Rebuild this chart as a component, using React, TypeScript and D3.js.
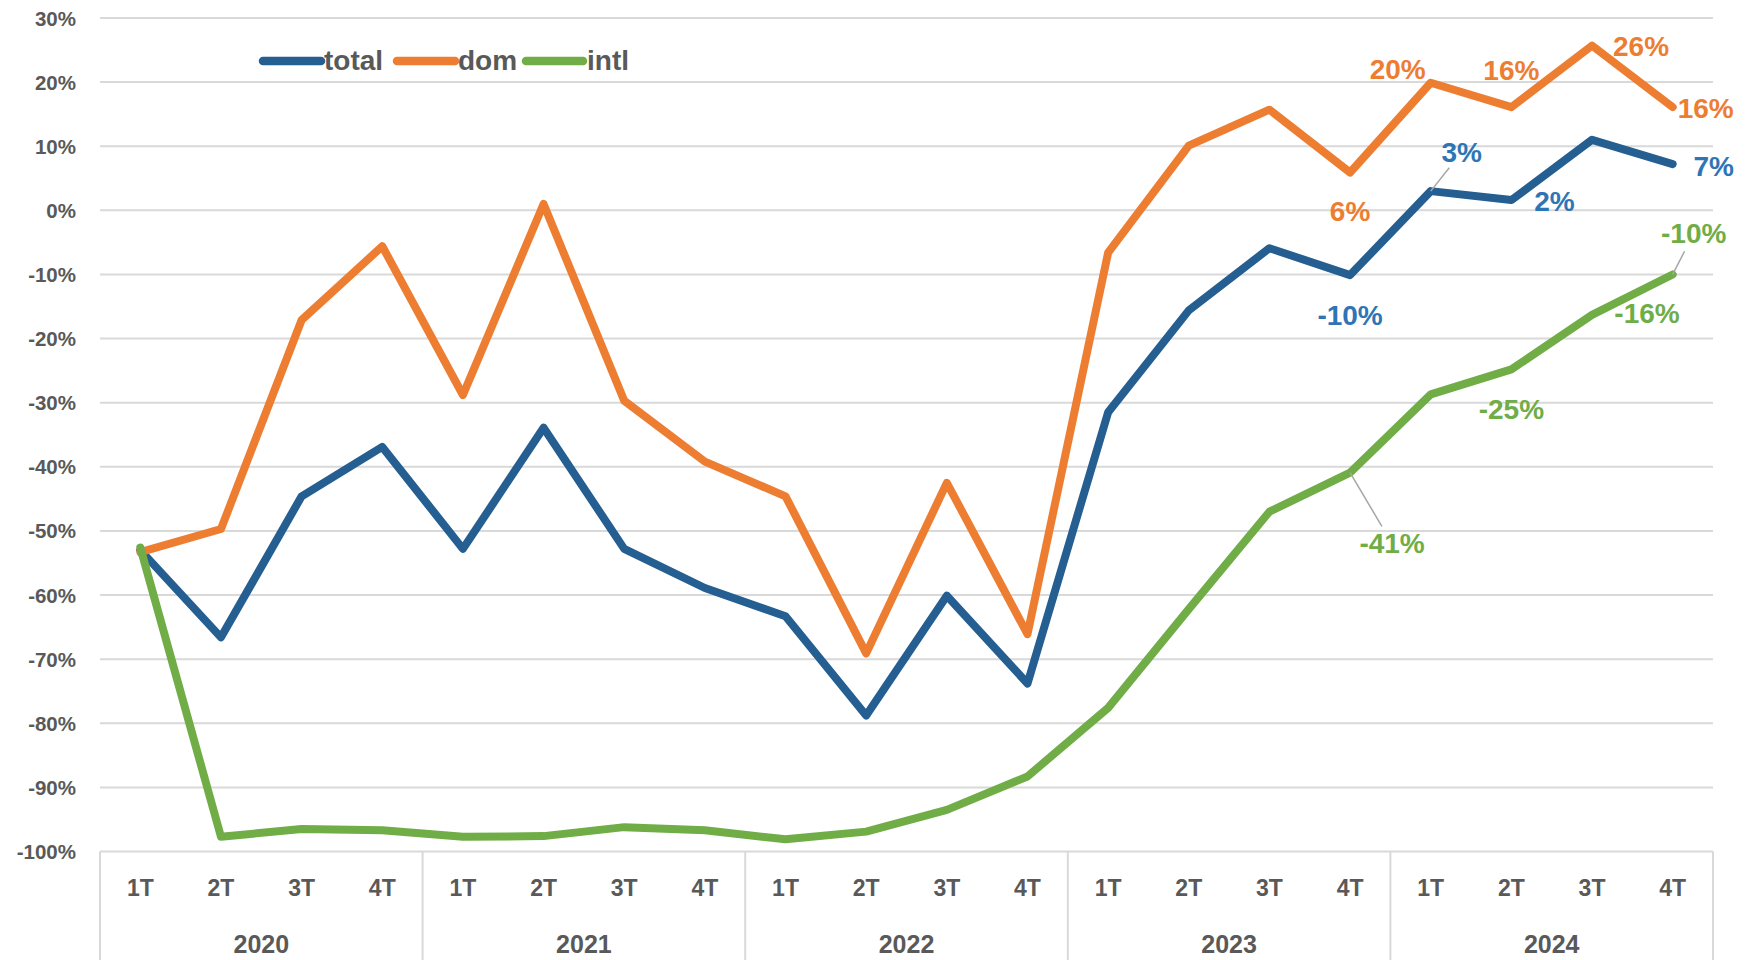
import React from "react";
import * as d3 from "d3";

const years = ["2020", "2021", "2022", "2023", "2024"];
const quarters = ["1T", "2T", "3T", "4T"];
const yTicks = [30, 20, 10, 0, -10, -20, -30, -40, -50, -60, -70, -80, -90, -100];

const totalValues = [-53.0, -66.6, -44.6, -36.9, -52.8, -33.9, -52.8, -58.9, -63.3, -78.8, -60.1, -73.8, -31.5, -15.6, -5.9, -10.1, 3.0, 1.6, 11.0, 7.2];
const domValues = [-53.3, -49.7, -17.1, -5.6, -28.8, 1.0, -29.7, -39.2, -44.6, -69.1, -42.5, -66.1, -6.6, 10.1, 15.7, 5.9, 19.9, 16.1, 25.7, 16.1];
const intlValues = [-52.6, -97.7, -96.5, -96.7, -97.7, -97.6, -96.2, -96.7, -98.1, -96.9, -93.5, -88.3, -77.6, -62.2, -47.0, -40.9, -28.7, -24.8, -16.3, -10.0];

const lineColors: Record<string, string> = { total: "#255E91", dom: "#ED7D31", intl: "#70AD47" };
const labelColors: Record<string, string> = { total: "#2E75B6", dom: "#ED7D31", intl: "#70AD47" };

// data labels: series, point index, label offset (dx, dy), optional leader line
const dataLabels = [
  { s: "dom", i: 15, dx: 0, dy: 39, leader: false },
  { s: "dom", i: 16, dx: -33, dy: -13, leader: false },
  { s: "dom", i: 17, dx: 0, dy: -37, leader: false },
  { s: "dom", i: 18, dx: 49, dy: 1, leader: false },
  { s: "dom", i: 19, dx: 33, dy: 1, leader: false },
  { s: "total", i: 15, dx: 0, dy: 40, leader: false },
  { s: "total", i: 16, dx: 31, dy: -39, leader: true },
  { s: "total", i: 17, dx: 43, dy: 1, leader: false },
  { s: "total", i: 19, dx: 41, dy: 2, leader: false },
  { s: "intl", i: 15, dx: 42, dy: 71, leader: true },
  { s: "intl", i: 17, dx: 0, dy: 40, leader: false },
  { s: "intl", i: 18, dx: 55, dy: -1, leader: false },
  { s: "intl", i: 19, dx: 21, dy: -41, leader: true },
];

const W = 1759;
const H = 960;
const left = 100;
const right = 1713;
const top = 18;
const bottom = 851.5;
const FONT = "'Liberation Sans', Arial, sans-serif";
const TXT = "#595959";
const GRID = "#D9D9D9";

export default function App() {
  const categories = years.flatMap((y) => quarters.map((q) => `${y}-${q}`));
  const x = d3.scaleBand<string>().domain(categories).range([left, right]);
  const xc = (i: number) => (x(categories[i]) as number) + x.bandwidth() / 2;
  const y = d3.scaleLinear().domain([-100, 30]).range([bottom, top]);

  const dataMap: Record<string, number[]> = { total: totalValues, dom: domValues, intl: intlValues };
  const line = d3
    .line<number>()
    .x((_, i) => xc(i))
    .y((d) => y(d));

  const yearW = x.bandwidth() * 4;

  const legendItems = [
    { s: "total", x1: 263, x2: 321, tx: 324 },
    { s: "dom", x1: 397, x2: 455, tx: 458 },
    { s: "intl", x1: 526, x2: 583, tx: 587 },
  ];

  return (
    <svg width={W} height={H} style={{ position: "absolute", left: 0, top: 0, background: "#fff" }} fontFamily={FONT}>
      <rect width={W} height={H} fill="#fff" />
      {yTicks.map((t) => (
        <g key={t}>
          <line x1={left} x2={right} y1={y(t)} y2={y(t)} stroke={GRID} strokeWidth={2} />
          <text x={76} y={y(t)} textAnchor="end" dominantBaseline="central" fontSize={20.5} fontWeight="bold" fill={TXT}>
            {`${t}%`}
          </text>
        </g>
      ))}
      {/* category axis box */}
      {d3.range(years.length + 1).map((k) => (
        <line key={k} x1={left + k * yearW} x2={left + k * yearW} y1={bottom} y2={H} stroke={GRID} strokeWidth={2} />
      ))}
      {categories.map((c, i) => (
        <text key={c} x={xc(i)} y={888} textAnchor="middle" dominantBaseline="central" fontSize={23} fontWeight="bold" fill={TXT}>
          {quarters[i % 4]}
        </text>
      ))}
      {years.map((yr, k) => (
        <text key={yr} x={left + k * yearW + yearW / 2} y={944} textAnchor="middle" dominantBaseline="central" fontSize={25} fontWeight="bold" fill={TXT}>
          {yr}
        </text>
      ))}
      {["total", "dom", "intl"].map((s) => (
        <path key={s} d={line(dataMap[s]) as string} fill="none" stroke={lineColors[s]} strokeWidth={8} strokeLinejoin="round" strokeLinecap="round" />
      ))}
      {dataLabels.map((l, k) => {
        const v = dataMap[l.s][l.i];
        const px = xc(l.i);
        const py = y(v);
        const lx = px + l.dx;
        const ly = py + l.dy;
        let leader = null;
        if (l.leader) {
          const len = Math.hypot(l.dx, l.dy);
          const ux = l.dx / len;
          const uy = l.dy / len;
          const end = len - 20;
          leader = <line x1={px} y1={py} x2={px + ux * end} y2={py + uy * end} stroke="#A6A6A6" strokeWidth={1.5} />;
        }
        return (
          <g key={k}>
            {leader}
            <text x={lx} y={ly} textAnchor="middle" dominantBaseline="central" fontSize={28} fontWeight="bold" fill={labelColors[l.s]}>
              {`${Math.round(v)}%`}
            </text>
          </g>
        );
      })}
      {legendItems.map((it) => (
        <g key={it.s}>
          <line x1={it.x1} x2={it.x2} y1={61} y2={61} stroke={lineColors[it.s]} strokeWidth={8.5} strokeLinecap="round" />
          <text x={it.tx} y={69.5} fontSize={28} fontWeight="bold" fill={TXT}>
            {it.s}
          </text>
        </g>
      ))}
    </svg>
  );
}
